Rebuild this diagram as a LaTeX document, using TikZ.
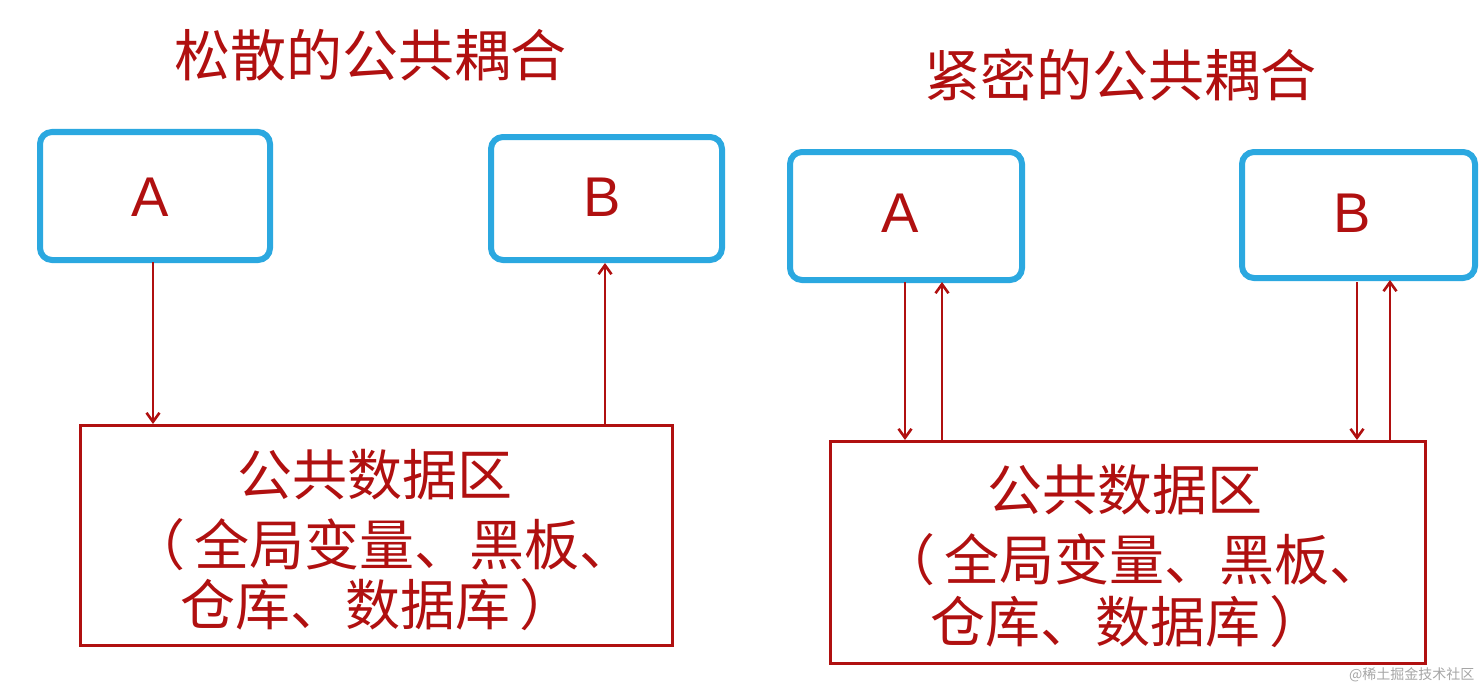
\documentclass[tikz,border=0pt]{standalone}
\usepackage{fontspec}
\setmainfont{Noto Sans CJK SC}
\newfontfamily\latin{Liberation Sans}
\usetikzlibrary{arrows.meta}
\definecolor{dred}{HTML}{B01010}
\definecolor{sky}{HTML}{2BA8E0}
\begin{document}
\begin{tikzpicture}[x=1pt,y=-1pt,
  mod/.style={draw=sky,line width=6pt,rounded corners=12pt},
  data/.style={draw=dred,line width=3pt},
  lbl/.style={text=dred,font=\latin\fontsize{56}{56}\selectfont},
  ttl/.style={text=dred,font=\fontsize{56}{60}\selectfont},
  dtxt/.style={text=dred,font=\fontsize{55}{60}\selectfont,inner sep=0pt},
  arr/.style={draw=dred,line width=2.6pt,-{Straight Barb[length=9pt,width=13pt]}}]
\useasboundingbox (0,0) rectangle (1482,690);
\node[ttl] (t1) at (370,55) {松散的公共耦合};
\node[ttl] (t2) at (1120,75) {紧密的公共耦合};
% left
\draw[mod] (40,132) rectangle (270,260);
\node[lbl] (la) at (150,197) {A};
\draw[mod] (491,137) rectangle (722,260);
\node[lbl] (lb) at (602,197) {B};
\draw[data] (80,425) rectangle (672,645);
\node[dtxt] (ld1) at (375,475) {公共数据区};
\node[dtxt,anchor=west] (ld2) at (130,545) {（\,全局变量、黑板、};
\node[dtxt,anchor=west] (ld3) at (180,605) {仓库、数据库\,）};
\coordinate (l1) at (153,262); \coordinate (l2) at (153,424);
\coordinate (l3) at (605,424); \coordinate (l4) at (605,263);
\draw[arr] (l1) -- (l2);
\draw[arr] (l3) -- (l4);
% right
\draw[mod] (790,152) rectangle (1022,280);
\node[lbl] (ra) at (900,213) {A};
\draw[mod] (1242,152) rectangle (1475,278);
\node[lbl] (rb) at (1352,213) {B};
\draw[data] (830,441) rectangle (1425,663);
\node[dtxt] (rd1) at (1125,490) {公共数据区};
\node[dtxt,anchor=west] (rd2) at (880,560) {（\,全局变量、黑板、};
\node[dtxt,anchor=west] (rd3) at (930,622) {仓库、数据库\,）};
\coordinate (r1) at (905,282); \coordinate (r2) at (905,440);
\coordinate (r3) at (942,440); \coordinate (r4) at (942,282);
\coordinate (r5) at (1357,282); \coordinate (r6) at (1357,440);
\coordinate (r7) at (1390,440); \coordinate (r8) at (1390,280);
\draw[arr] (r1) -- (r2);
\draw[arr] (r3) -- (r4);
\draw[arr] (r5) -- (r6);
\draw[arr] (r7) -- (r8);
\node[text=gray!70,font=\fontsize{14}{14}\selectfont,anchor=east] (wm) at (1478,675) {@稀土掘金技术社区};
\end{tikzpicture}
\end{document}
